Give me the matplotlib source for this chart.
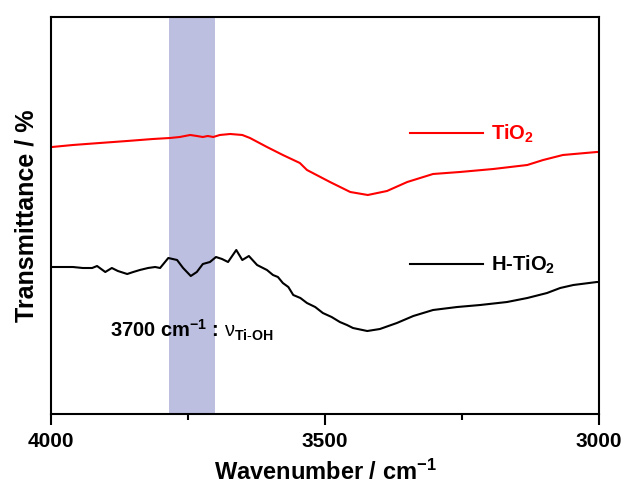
import numpy as np
import matplotlib
matplotlib.use('Agg')
import matplotlib.pyplot as plt
from matplotlib.lines import Line2D
from matplotlib.ticker import MultipleLocator

plt.rcParams['font.family'] = ['Liberation Sans', 'DejaVu Sans']
plt.rcParams['mathtext.fontset'] = 'custom'
plt.rcParams['mathtext.rm'] = 'Liberation Sans'
plt.rcParams['mathtext.it'] = 'Liberation Sans'
plt.rcParams['mathtext.bf'] = 'Liberation Sans:bold'

# TiO2 (red)
tio2_wn = [4000, 3998, 3960, 3911, 3861, 3814, 3783, 3765, 3746, 3734, 3723, 3714,
           3704, 3692, 3673, 3651, 3637, 3606, 3577, 3546, 3533, 3491, 3454, 3422,
           3387, 3350, 3303, 3254, 3193, 3131, 3102, 3066, 3004, 3000]
tio2_t = [267, 267, 269, 271, 273, 275, 276, 277, 279, 278, 277, 278,
          277, 279, 280, 279, 276, 267, 259, 251, 244, 232, 222, 219,
          223, 232, 240, 242, 245, 249, 254, 259, 262, 262]

# H-TiO2 (black)
htio2_wn = [4000, 3998, 3984, 3960, 3942, 3925, 3916, 3901, 3889, 3878, 3861, 3850,
            3838, 3823, 3810, 3801, 3786, 3770, 3759, 3745, 3734, 3723, 3710, 3699,
            3688, 3677, 3662, 3651, 3639, 3624, 3606, 3595, 3586, 3577, 3567, 3558,
            3545, 3533, 3518, 3504, 3488, 3473, 3460, 3449, 3423, 3400, 3369, 3339,
            3303, 3259, 3217, 3168, 3131, 3095, 3071, 3047, 3004, 3000]
htio2_t = [147, 147, 147, 147, 146, 146, 148, 142, 146, 143, 140, 142,
           144, 146, 147, 146, 156, 154, 146, 138, 142, 150, 152, 157,
           155, 152, 164, 154, 158, 149, 144, 139, 137, 131, 127, 119,
           116, 111, 107, 101, 97, 92, 89, 86, 83, 85, 91, 98,
           104, 107, 109, 112, 116, 121, 126, 129, 132, 132]

band = (3785, 3700)
band_color = '#bcbfe0'

fig = plt.figure(figsize=(6.26, 4.95), dpi=100)
ax = fig.add_axes([0.0815, 0.1636, 0.8755, 0.8021])

ax.axvspan(band[0], band[1], color=band_color, zorder=0, lw=0)
ax.plot(tio2_wn, tio2_t, color='#ff0000', lw=1.5, zorder=2)
ax.plot(htio2_wn, htio2_t, color='black', lw=1.5, zorder=2)

ax.set_xlim(4000, 3000)
ax.set_ylim(0, 397)
ax.set_yticks([])
ax.xaxis.set_major_locator(MultipleLocator(500))
ax.xaxis.set_minor_locator(MultipleLocator(250))
ax.tick_params(axis='x', which='major', direction='out', length=8, width=1.5,
               pad=5, labelsize=15)
ax.tick_params(axis='x', which='minor', direction='out', length=4, width=1.5)
for lbl in ax.get_xticklabels():
    lbl.set_fontweight('bold')
for s in ax.spines.values():
    s.set_linewidth(1.5)

ax.set_xlabel('Wavenumber / cm$^{\\mathbf{-1}}$', fontsize=17, fontweight='bold',
              labelpad=6)
ax.set_ylabel('Transmittance / %', fontsize=18, fontweight='bold', labelpad=9)

ax.text(3892, 84, '3700 cm$^{\\mathbf{-1}}$ : $\\nu_{\\mathbf{Ti}\\text{-}\\mathbf{OH}}$',
        fontsize=14.5, fontweight='bold', ha='left', va='center', zorder=3)

leg1 = ax.legend([Line2D([], [], color='#ff0000', lw=1.5)], ['TiO$_{\\mathbf{2}}$'],
                 loc='center left', bbox_to_anchor=(0.655, 0.705), frameon=False,
                 handlelength=3.6, handletextpad=0.4, borderpad=0, borderaxespad=0,
                 prop={'size': 14.5, 'weight': 'bold'})
for t in leg1.get_texts():
    t.set_color('#ff0000')
ax.add_artist(leg1)
ax.legend([Line2D([], [], color='black', lw=1.5)], ['H-TiO$_{\\mathbf{2}}$'],
          loc='center left', bbox_to_anchor=(0.655, 0.375), frameon=False,
          handlelength=3.6, handletextpad=0.4, borderpad=0, borderaxespad=0,
          prop={'size': 14.5, 'weight': 'bold'})

fig.savefig('out.png', dpi=100)
